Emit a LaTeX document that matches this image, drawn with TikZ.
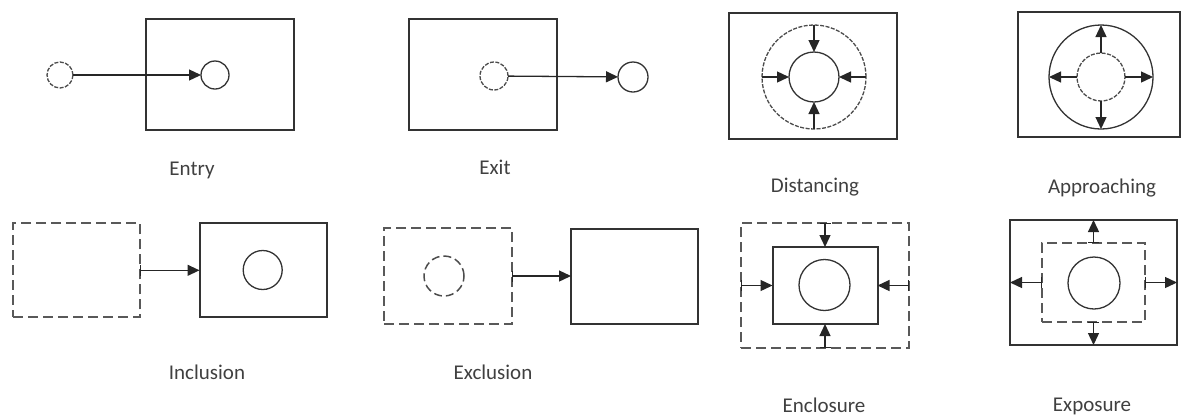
\documentclass[tikz,border=0pt]{standalone}
\usepackage{fontspec}
\setmainfont{Carlito}
\usetikzlibrary{arrows.meta}
\begin{document}
\begin{tikzpicture}[x=1pt,y=-1pt,
  boxsolid/.style={draw=black!80,line width=2pt,inner sep=0pt,outer sep=0pt,rectangle},
  boxdash/.style={draw=black!65,line width=2pt,dash pattern=on 10pt off 5pt,inner sep=0pt,outer sep=0pt,rectangle},
  circsolid/.style={draw=black!80,line width=1.3pt,circle,inner sep=0pt,outer sep=0pt},
  circdash/.style={draw=black!70,line width=1.3pt,circle,inner sep=0pt,outer sep=0pt,dash pattern=on 4pt off 1.5pt},
  circdashbig/.style={draw=black!70,line width=1.5pt,circle,inner sep=0pt,outer sep=0pt,dash pattern=on 8pt off 4pt},
  arr/.style={draw=black!85,line width=1.3pt,-{Triangle[length=12pt,width=11pt]}},
  barr/.style={draw=black!85,line width=1.3pt,{Bar[width=11pt]}-{Triangle[length=12pt,width=11pt]}},
  lbl/.style={anchor=base,text=black!75,font=\fontsize{21}{24}\selectfont,inner sep=0pt}]
\useasboundingbox (0,0) rectangle (1182,416);
% Entry
\node[boxsolid,minimum width=148pt,minimum height=111pt] (entrybox) at (220,74.5) {};
\node[circdash,minimum size=26pt] (entryout) at (60,75) {};
\node[circsolid,minimum size=28pt] (entryin) at (215,75) {};
\draw[arr] (entryout) -- (entryin);
\node[lbl] (entrylbl) at (192,175) {Entry};
% Exit
\node[boxsolid,minimum width=148pt,minimum height=111pt] (exitbox) at (483,74.5) {};
\node[circdash,minimum size=28pt] (exitin) at (494,76) {};
\node[circsolid,minimum size=30pt] (exitout) at (633,77) {};
\draw[arr] (exitin) -- (exitout);
\node[lbl] (exitlbl) at (495,174) {Exit};
% Distancing
\node[boxsolid,minimum width=168pt,minimum height=126pt] (distbox) at (813,76) {};
\node[circdash,minimum size=104pt] (distouter) at (814,77) {};
\node[circsolid,minimum size=50pt] (distinner) at (814,77) {};
\draw[arr] (distouter.north) -- (distinner.north);
\draw[arr] (distouter.south) -- (distinner.south);
\draw[arr] (distouter.west) -- (distinner.west);
\draw[arr] (distouter.east) -- (distinner.east);
\node[lbl] (distlbl) at (815,192.5) {Distancing};
% Approaching
\node[boxsolid,minimum width=162pt,minimum height=125pt] (apprbox) at (1099,74.5) {};
\node[circsolid,minimum size=104pt] (approuter) at (1101,77) {};
\node[circdash,minimum size=48pt] (apprinner) at (1101,77) {};
\draw[arr] (apprinner.north) -- (approuter.north);
\draw[arr] (apprinner.south) -- (approuter.south);
\draw[arr] (apprinner.west) -- (approuter.west);
\draw[arr] (apprinner.east) -- (approuter.east);
\node[lbl] (apprlbl) at (1102,193) {Approaching};
% Inclusion
\node[boxdash,minimum width=127pt,minimum height=94pt] (incdash) at (76.5,270.3) {};
\node[boxsolid,minimum width=127pt,minimum height=94pt] (incbox) at (263,270.3) {};
\node[circsolid,minimum size=39pt] (inccirc) at (262.7,270) {};
\draw[barr] (incdash.east) -- (incbox.west);
\node[lbl] (inclbl) at (207,379) {Inclusion};
% Exclusion
\node[boxdash,minimum width=128pt,minimum height=96pt] (excdash) at (448,276) {};
\node[circdashbig,minimum size=40pt] (exccirc) at (444,276) {};
\node[boxsolid,minimum width=127pt,minimum height=95pt] (excbox) at (634.5,276) {};
\draw[barr] (excdash.east) -- (excbox.west);
\node[lbl] (exclbl) at (493,379) {Exclusion};
% Enclosure
\node[boxdash,minimum width=168pt,minimum height=125pt] (encdash) at (825,285.5) {};
\node[boxsolid,minimum width=105pt,minimum height=77pt] (encbox) at (825,285.5) {};
\node[circsolid,minimum size=51pt] (enccirc) at (824.5,285) {};
\draw[barr] (encdash.north) -- (encbox.north);
\draw[barr] (encdash.south) -- (encbox.south);
\draw[barr] (encdash.west) -- (encbox.west);
\draw[barr] (encdash.east) -- (encbox.east);
\node[lbl] (enclbl) at (824,412) {Enclosure};
% Exposure
\node[boxsolid,minimum width=167pt,minimum height=125pt] (expbox) at (1093.5,282.5) {};
\node[boxdash,minimum width=103pt,minimum height=79pt] (expdash) at (1093.5,282.5) {};
\node[circsolid,minimum size=52pt] (expcirc) at (1094,283) {};
\draw[barr] (expdash.north) -- (expbox.north);
\draw[barr] (expdash.south) -- (expbox.south);
\draw[barr] (expdash.west) -- (expbox.west);
\draw[barr] (expdash.east) -- (expbox.east);
\node[lbl] (explbl) at (1092,411) {Exposure};
\end{tikzpicture}
\end{document}
